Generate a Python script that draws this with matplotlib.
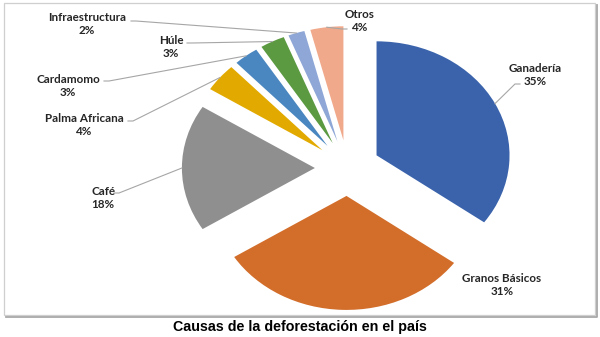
import numpy as np
import matplotlib.pyplot as plt
from matplotlib.patches import Rectangle

# Causas de la deforestación (porcentaje)
categorias = ["Ganadería", "Granos Básicos", "Café", "Palma Africana",
              "Cardamomo", "Húle", "Infraestructura", "Otros"]
porcentajes = [35, 31, 18, 4, 3, 3, 2, 4]
colores = ["#3A63AC", "#D26D2A", "#8F8F8F", "#E2AA00",
           "#4A87C0", "#5C9A42", "#8FA7D7", "#F1A98B"]

# pie geometry in pixels (figure is 600 x 337)
W, H = 600, 337
CX, CY = 347.5, 168.0       # pie centre
RX, RY = 133.0, 114.0       # horizontal / vertical radius
EXPLODE = 0.245

# label block centres and where each leader line meets its label
label_pos = {
    "Ganadería": (535, 75), "Granos Básicos": (502, 285), "Café": (103, 198),
    "Palma Africana": (84, 125), "Cardamomo": (68, 86), "Húle": (171, 47),
    "Infraestructura": (87, 24), "Otros": (360, 21),
}
leader_end = {
    "Ganadería": (520, 84), "Café": (114, 193), "Palma Africana": (128, 121),
    "Cardamomo": (104, 81), "Húle": (187, 43), "Infraestructura": (131, 21),
    "Otros": (347, 29),
}

fig = plt.figure(figsize=(W / 100, H / 100), dpi=100)

ax = fig.add_axes([0, 0, 1, 1])
ax.pie(porcentajes, colors=colores, startangle=90, counterclock=False,
       explode=[EXPLODE] * len(porcentajes), radius=1.0)
ax.set_aspect("auto")
ax.set_xlim(-CX / RX, (W - CX) / RX)
ax.set_ylim(-(H - CY) / RY, CY / RY)
ax.axis("off")

# overlay in pixel coordinates for frame, labels and leader lines
ov = fig.add_axes([0, 0, 1, 1], zorder=2)
ov.set_xlim(0, W)
ov.set_ylim(H, 0)
ov.axis("off")
ov.patch.set_alpha(0)

# chart area border with a soft shadow on the bottom and right
ov.plot([6, 596.5, 596.5], [316.5, 316.5, 5], color="#A8A8A8", lw=1.3)
ov.add_patch(Rectangle((4, 3), 591, 312, fill=False, edgecolor="#CFCFCF", lw=0.9))

total = sum(porcentajes)
acum = 0
for nombre, val in zip(categorias, porcentajes):
    mid = 90 - 360 * (acum + val / 2) / total
    acum += val
    dx, dy = np.cos(np.radians(mid)), np.sin(np.radians(mid))
    ax_x = CX + (1 + EXPLODE) * RX * dx
    ax_y = CY - (1 + EXPLODE) * RY * dy

    lx, ly = label_pos[nombre]
    ov.text(lx, ly, f"{nombre}\n{val}%", ha="center", va="center",
            fontsize=8.4, fontweight="bold", family="Lato", color="#262626",
            linespacing=1.22)

    if nombre in leader_end:
        ex, ey = leader_end[nombre]
        stub = 5 if ex < ax_x else -5
        ov.plot([ex, ex + stub, ax_x], [ey, ey, ax_y], color="#A6A6A6", lw=0.8)

fig.text(0.5, 1 - 327 / H, "Causas de la deforestación en el país",
         ha="center", va="center", fontsize=10.3, fontweight="bold",
         family="Liberation Sans", color="black")

fig.savefig("out.png", dpi=100)
